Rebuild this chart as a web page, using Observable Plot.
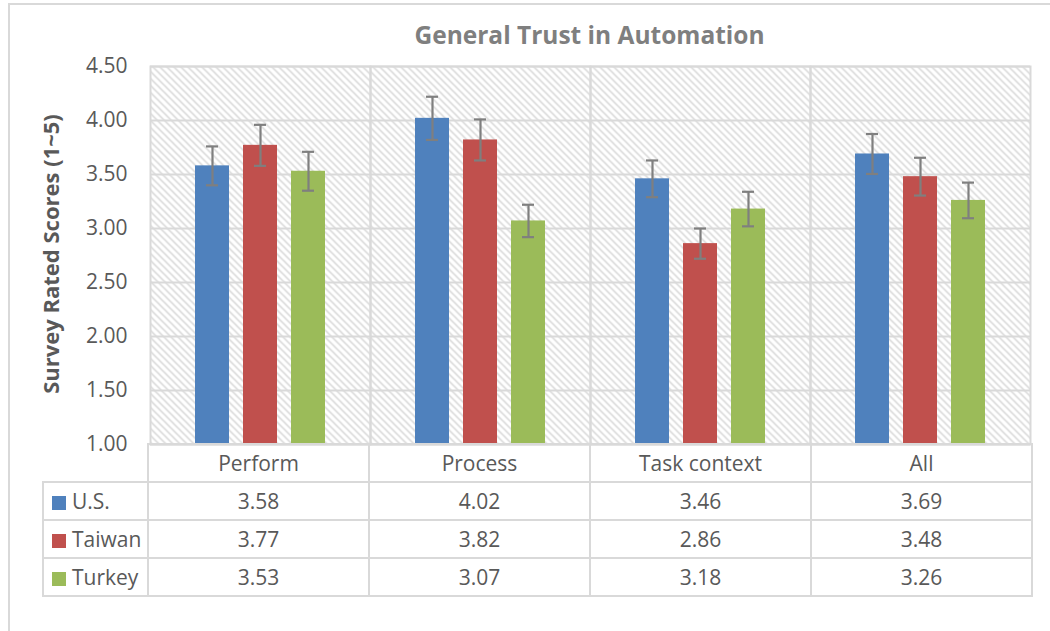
<!DOCTYPE html>
<html>
<head>
<meta charset="utf-8">
<script src="https://cdn.jsdelivr.net/npm/d3@7"></script>
<script src="https://cdn.jsdelivr.net/npm/@observablehq/plot@0.6"></script>
<style>
  html, body { margin: 0; padding: 0; background: #fff; overflow: hidden; }
  #chart { position: relative; width: 1050px; height: 631px; font-family: "Open Sans", sans-serif; color: #595959; overflow: hidden; }
  #outer { position: absolute; left: 8px; top: 3px; width: 1200px; height: 800px; border-left: 2px solid #d9d9d9; border-top: 2px solid #d9d9d9; }
  #title { position: absolute; left: 148px; width: 883px; top: 23px; text-align: center; font-size: 24.5px; line-height: 24px; font-weight: 700; color: #7f7f7f; white-space: nowrap; }
  #ylabel { position: absolute; left: 50px; top: 254px; transform: translate(-50%, -50%) rotate(-90deg); font-size: 22px; font-weight: 700; color: #595959; white-space: nowrap; }
  #plot { position: absolute; left: 0; top: 0; }
  #table { position: absolute; left: 42px; top: 443px; border-collapse: collapse; table-layout: fixed; font-size: 21px; color: #595959; }
  #table td { border: 2px solid #d9d9d9; padding: 0; text-align: center; height: 36px; line-height: 34px; white-space: nowrap; }
  #table td.blank { border: none; border-right: 2px solid #d9d9d9; }
  #table td.leg { text-align: left; }
  .sw { display: inline-block; width: 14px; height: 14px; margin-left: 8px; margin-right: 6px; vertical-align: -1px; }
</style>
</head>
<body>
<svg width="0" height="0" style="position:absolute">
  <defs>
    <pattern id="hatch" patternUnits="userSpaceOnUse" width="7" height="7">
      <rect width="7" height="7" fill="#ffffff"></rect>
      <path d="M-1,-1 L8,8 M-1,6 L1,8 M6,-1 L8,1" stroke="#d6d6d6" stroke-width="1.5"></path>
    </pattern>
  </defs>
</svg>
<div id="chart">
  <div id="outer"></div>
  <div id="title"></div>
  <div id="ylabel"></div>
  <div id="plot"></div>
  <table id="table"></table>
</div>
<script>
const title = "General Trust in Automation";
const yLabel = "Survey Rated Scores (1~5)";
const categories = ["Perform", "Process", "Task context", "All"];
const series = ["U.S.", "Taiwan", "Turkey"];
const colors = ["#4f81bd", "#c0504d", "#9bbb59"];
const usValues = [3.58, 4.02, 3.46, 3.69];
const taiwanValues = [3.77, 3.82, 2.86, 3.48];
const turkeyValues = [3.53, 3.07, 3.18, 3.26];
const usErrors = [0.18, 0.20, 0.17, 0.185];
const taiwanErrors = [0.19, 0.19, 0.14, 0.175];
const turkeyErrors = [0.18, 0.15, 0.16, 0.165];
const yTicks = [1.0, 1.5, 2.0, 2.5, 3.0, 3.5, 4.0, 4.5];
const yDomain = [1, 4.5];

const valuesBySeries = [usValues, taiwanValues, turkeyValues];
const errorsBySeries = [usErrors, taiwanErrors, turkeyErrors];
const data = [];
categories.forEach((c, i) => {
  series.forEach((s, j) => {
    const v = valuesBySeries[j][i], e = errorsBySeries[j][i];
    data.push({cat: c, series: s, value: v, lo: v - e, hi: v + e, base: yDomain[0]});
  });
});

document.getElementById("title").textContent = title;
document.getElementById("ylabel").textContent = yLabel;

const plot = Plot.plot({
  width: 1050,
  height: 631,
  marginLeft: 148,
  marginRight: 19,
  marginTop: 66,
  marginBottom: 187,
  style: {fontFamily: "Open Sans, sans-serif", background: "transparent", overflow: "visible"},
  fx: {domain: categories, padding: 0, axis: null},
  x: {domain: series, paddingInner: 0.3, paddingOuter: 0.93, axis: null},
  y: {domain: yDomain, axis: null},
  color: {domain: series, range: colors},
  marks: [
    Plot.frame({fill: "url(#hatch)", stroke: null}),
    Plot.gridY(yTicks, {stroke: "#d9d9d9", strokeOpacity: 1, strokeWidth: 2}),
    Plot.frame({stroke: "#d9d9d9", strokeWidth: 2}),
    Plot.barY(data, {fx: "cat", x: "series", y1: "base", y2: "value", fill: "series"}),
    Plot.ruleX(data, {fx: "cat", x: "series", y1: "lo", y2: "hi", stroke: "#7f7f7f", strokeWidth: 2.2}),
    Plot.tickY(data, {fx: "cat", x: "series", y: "lo", stroke: "#7f7f7f", strokeWidth: 2.2, insetLeft: 11, insetRight: 11}),
    Plot.tickY(data, {fx: "cat", x: "series", y: "hi", stroke: "#7f7f7f", strokeWidth: 2.2, insetLeft: 11, insetRight: 11}),
    Plot.axisY(yTicks, {anchor: "left", tickSize: 0, tickPadding: 23, tickFormat: d3.format(".2f"), fontSize: 21, fill: "#595959", label: null})
  ]
});
document.getElementById("plot").appendChild(plot);

// data table under the chart
const table = document.getElementById("table");
const colgroup = document.createElement("colgroup");
[105, 221, 221, 221, 221].forEach(w => { const col = document.createElement("col"); col.style.width = w + "px"; colgroup.appendChild(col); });
table.appendChild(colgroup);
const head = document.createElement("tr");
const blank = document.createElement("td"); blank.className = "blank"; head.appendChild(blank);
categories.forEach(c => { const td = document.createElement("td"); td.textContent = c; head.appendChild(td); });
table.appendChild(head);
series.forEach((s, j) => {
  const tr = document.createElement("tr");
  const lg = document.createElement("td"); lg.className = "leg";
  const sw = document.createElement("span"); sw.className = "sw"; sw.style.background = colors[j];
  lg.appendChild(sw); lg.appendChild(document.createTextNode(s));
  tr.appendChild(lg);
  valuesBySeries[j].forEach(v => { const td = document.createElement("td"); td.textContent = v.toFixed(2); tr.appendChild(td); });
  table.appendChild(tr);
});
</script>
</body>
</html>
